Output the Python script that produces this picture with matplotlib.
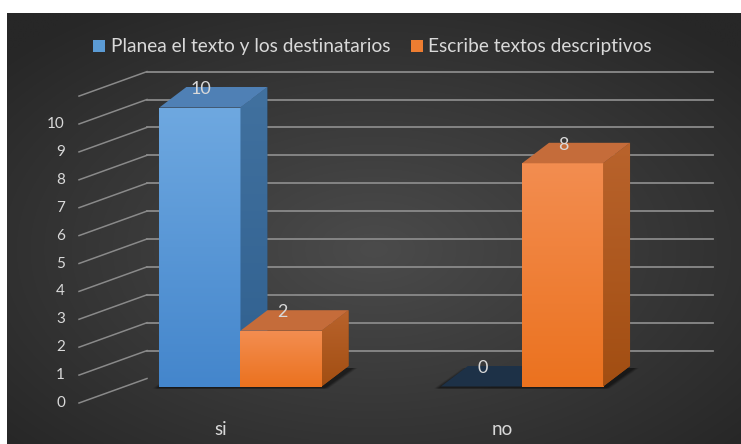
import numpy as np
import matplotlib
matplotlib.use("Agg")
import matplotlib.pyplot as plt
from matplotlib.patches import Polygon, Rectangle
from matplotlib.lines import Line2D
from matplotlib.transforms import IdentityTransform, ScaledTranslation
from matplotlib.colors import to_rgb

# ---- data ----
categories = ["si", "no"]
series_names = ["Planea el texto y los destinatarios", "Escribe textos descriptivos"]
planea = [10, 0]
escribe = [2, 8]
y_ticks = list(range(0, 11))
y_max = 11

# ---- figure geometry (pixels) ----
W, H, DPI = 741, 444, 100
FONT = "Lato"
TXT = "#d9d9d9"
GRID = "#8a8a8a"
DEPTH_X, DEPTH_Y = 27, 20.5          # oblique depth of each bar
WALL_UP = 8                          # back wall sits slightly above bar base
FRONT_DX, FRONT_DN = -68, 16.5       # front edge of the floor/side wall

fig = plt.figure(figsize=(W / DPI, H / DPI), dpi=DPI)
fig.patch.set_facecolor("white")


def px_box(x0, y0, x1, y1):
    return [x0 / W, 1 - y1 / H, (x1 - x0) / W, (y1 - y0) / H]


# dark panel with a soft radial gradient
bg = fig.add_axes(px_box(7, 13, 741, 444))
bg.set_axis_off()
gx = np.linspace(-1, 1, 500)
gy = np.linspace(-1, 1, 300)
GX, GY = np.meshgrid(gx, gy)
r = np.clip(np.sqrt(GX ** 2 + (GY + 0.1) ** 2) / 1.35, 0, 1)
inner = np.array(to_rgb("#4b4b4b"))
outer = np.array(to_rgb("#272727"))
bg.imshow(inner + (outer - inner) * r[..., None], extent=(0, 1, 0, 1),
          aspect="auto", origin="lower", interpolation="bilinear")

# plotting axes: value 0 at the bar base, one unit = 27.9 px
base_px, unit_px = 386.5, 27.9
ax = fig.add_axes(px_box(147, base_px - y_max * unit_px, 713, base_px))
ax.set_axis_off()
xlim = (-0.332, 1.6785)
ax.set_xlim(*xlim)
ax.set_ylim(0, y_max)
x = np.arange(len(categories))
bw = 0.288


def disp(pts):
    return ax.transData.transform(np.asarray(pts, dtype=float))


def shifted(tr, dx, dy_down):
    return tr + ScaledTranslation(dx / DPI, -dy_down / DPI, fig.dpi_scale_trans)


def add_poly(pts, z, **kw):
    p = Polygon(pts, closed=True, transform=IdentityTransform(),
                edgecolor="none", zorder=z, **kw)
    ax.add_artist(p)
    p.set_clip_on(False)
    return p


# ---- wall gridlines and value axis ----
ytr = ax.get_yaxis_transform()
for v in range(0, y_max + 1):
    p = ytr.transform((0, v))
    back = p + np.array([0, WALL_UP])
    front = p + np.array([FRONT_DX, -FRONT_DN])
    ln = Line2D([front[0], back[0]], [front[1], back[1]],
                transform=IdentityTransform(), color=GRID, lw=1.1, zorder=1)
    ax.add_artist(ln)
    ln.set_clip_on(False)
    if v > 0:
        ax.plot([0, 1], [v, v], transform=shifted(ytr, 0, -WALL_UP),
                color=GRID, lw=1.3, clip_on=False, zorder=1)
for v in y_ticks:
    ax.text(0, v, str(v), transform=shifted(ytr, FRONT_DX - 14, FRONT_DN),
            ha="right", va="center", color=TXT, fontsize=11, family=FONT)


def gradient_fill(patch, c_top, c_bot, z):
    ext = patch.get_window_extent()
    (x0, y0), (x1, y1) = ax.transData.inverted().transform(
        [[ext.x0, ext.y0], [ext.x1, ext.y1]])
    t = np.linspace(1, 0, 64)[:, None]
    a, b = np.array(to_rgb(c_top)), np.array(to_rgb(c_bot))
    g = (b + (a - b) * t)[:, None, :].repeat(2, axis=1)
    im = ax.imshow(g, extent=(x0, x1, y0, y1), aspect="auto", origin="upper",
                   zorder=z, interpolation="bilinear")
    im.set_clip_path(patch)
    ax.set_xlim(*xlim)
    ax.set_ylim(0, y_max)


def soft_shadow(x0, x1, z):
    f = disp([[x0, 0], [x1, 0]])
    for k, a in zip(range(5, 0, -1), [0.08, 0.1, 0.12, 0.14, 0.18]):
        pts = [f[0] + [-k - 2, -2], f[1] + [k + 2, -2],
               f[1] + [DEPTH_X + k + 4, DEPTH_Y - 2], f[0] + [DEPTH_X - k, DEPTH_Y - 2]]
        add_poly(pts, z, facecolor="black", alpha=a)


def bar3d(x0, val, front_cols, side_cols, top_col, z):
    x1 = x0 + bw
    d = np.array([DEPTH_X, DEPTH_Y])
    if val > 0:
        rects = ax.bar([x0], [val], width=bw, align="edge", color=front_cols[1],
                       zorder=z, linewidth=0)
        gradient_fill(rects[0], front_cols[0], front_cols[1], z + 0.1)
        s = disp([[x1, 0], [x1, val]])
        side = add_poly([s[0], s[1], s[1] + d, s[0] + d], z, facecolor=side_cols[1])
        gradient_fill(side, side_cols[0], side_cols[1], z + 0.1)
    t = disp([[x0, val], [x1, val]])
    add_poly([t[0], t[1], t[1] + d, t[0] + d], z + 0.2, facecolor=top_col)
    lbl = disp([[x0 + bw / 2, val]])[0] + np.array([1, DEPTH_Y - 2])
    fig.text(lbl[0] / W, lbl[1] / H, str(val), ha="center", va="center",
             color=TXT, fontsize=13, family=FONT, zorder=20)


blue_front = ("#6ea8e0", "#4486cc")
blue_side = ("#41719f", "#30608f")
blue_top = "#4f80b5"
blue_zero = "#1d3147"
orange_front = ("#f38d50", "#eb721f")
orange_side = ("#b9632c", "#a24e12")
orange_top = "#c56c3a"

for i in range(len(categories)):
    soft_shadow(x[i] - bw, x[i] + bw, 2)
    z = 3 + i * 2
    if planea[i] > 0:
        bar3d(x[i] - bw, planea[i], blue_front, blue_side, blue_top, z)
    else:
        bar3d(x[i] - bw, planea[i], blue_front, blue_side, blue_zero, z)
    bar3d(x[i], escribe[i], orange_front, orange_side, orange_top, z + 1)

# category labels
for i, c in enumerate(categories):
    ax.text(x[i], 0, c, transform=shifted(ax.transData, -20, 42.5),
            ha="center", va="center", color=TXT, fontsize=13.5, family=FONT)

# legend
for (sx, tx), name, col in zip([(93, 111), (411, 428)], series_names,
                               ["#5b9bd5", "#ed7d31"]):
    fig.add_artist(Rectangle((sx / W, 1 - 52 / H), 12 / W, 12 / H,
                             transform=fig.transFigure, facecolor=col,
                             edgecolor="none"))
    fig.text(tx / W, 1 - 46 / H, name, ha="left", va="center", color=TXT,
             fontsize=13.8, family=FONT)

fig.savefig("out.png", dpi=DPI)
